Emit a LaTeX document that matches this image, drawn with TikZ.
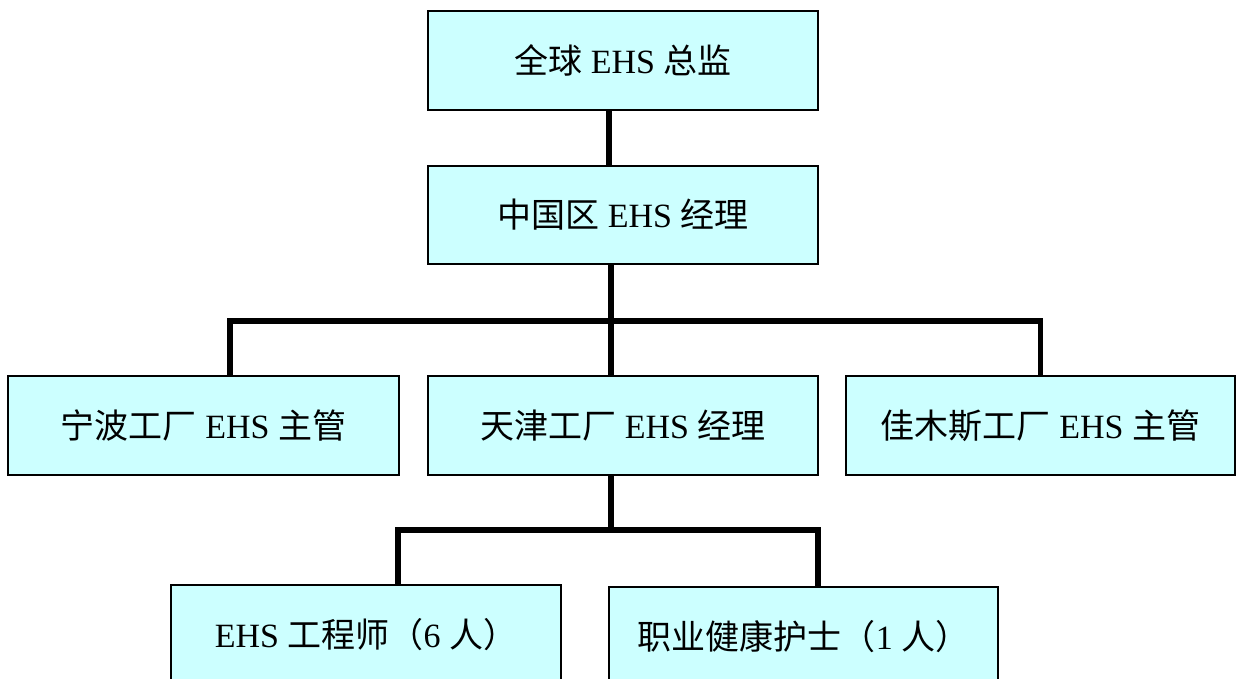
\documentclass[tikz,border=0pt]{standalone}
\usepackage{fontspec}
\setmainfont{Liberation Serif}
\newfontfamily\cjk{Noto Sans CJK SC}
\definecolor{boxfill}{HTML}{CCFFFF}
\begin{document}
\begin{tikzpicture}[x=1pt,y=-1pt,
  orgbox/.style={draw=black, line width=1.2pt, fill=boxfill, rectangle,
    minimum width=390pt, minimum height=99pt, inner sep=0pt,
    font=\fontsize{34}{37}\selectfont},
  conn/.style={draw=black, line width=5.5pt, line join=miter}]
\useasboundingbox[fill=white] (0,0) rectangle (1236,679);
\node[orgbox] (A) at (623,60.5) {{\cjk 全球} EHS {\cjk 总监}};
\node[orgbox, minimum height=98pt] (B) at (623,215) {{\cjk 中国区} EHS {\cjk 经理}};
\node[orgbox, minimum width=391pt] (C1) at (203.5,425.5) {{\cjk 宁波工厂} EHS {\cjk 主管}};
\node[orgbox] (C2) at (623,425.5) {{\cjk 天津工厂} EHS {\cjk 经理}};
\node[orgbox, minimum width=389pt] (C3) at (1040.5,425.5) {{\cjk 佳木斯工厂} EHS {\cjk 主管}};
\node[orgbox, minimum height=100pt] (D1) at (366,635) {EHS {\cjk 工程师（}6 {\cjk 人）}};
\node[orgbox, minimum width=389pt, minimum height=100pt] (D2) at (803.5,637) {{\cjk 职业健康护士（}1 {\cjk 人）}};
\coordinate (j1) at (611,321);
\coordinate (j2) at (611,530);
\draw[conn] ([xshift=-14pt]A.south) -- ([xshift=-14pt]B.north);
\draw[conn] (B.south -| j1) -- (j1);
\draw[conn] ([xshift=26.5pt]C1.north) |- (j1) -| (C3.north);
\draw[conn] (j1) -- (C2.north -| j1);
\draw[conn] (C2.south -| j2) -- (j2);
\draw[conn] ([xshift=32pt]D1.north) |- (j2) -| ([xshift=14.5pt]D2.north);
\end{tikzpicture}
\end{document}
